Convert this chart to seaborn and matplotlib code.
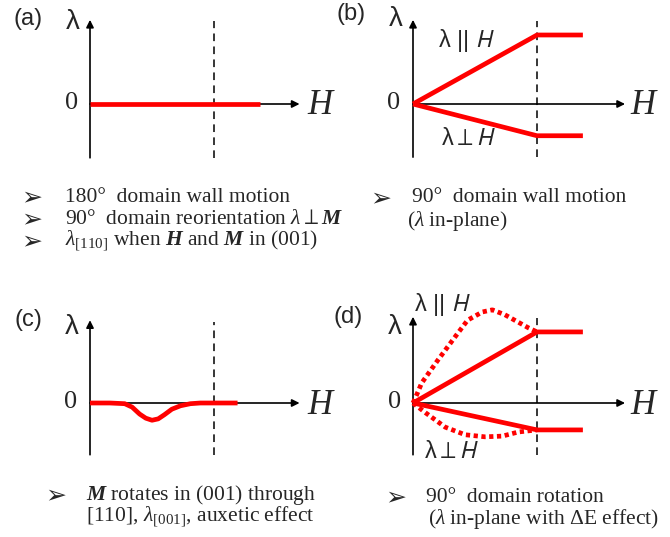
import matplotlib
matplotlib.use("Agg")
import matplotlib.pyplot as plt
import seaborn as sns

sns.set_style("white")
plt.rcParams["font.family"] = ["Liberation Serif", "DejaVu Sans"]
plt.rcParams["mathtext.fontset"] = "custom"
plt.rcParams["mathtext.rm"] = "Liberation Serif"
plt.rcParams["mathtext.it"] = "Liberation Serif:italic"
plt.rcParams["mathtext.bf"] = "Liberation Serif:bold:italic"

# Field H in units of the saturation field (dashed line at H = 1);
# magnetostriction lambda in units of the saturated lambda-parallel value of (b).
a_H = [0.0, 1.37]
a_lam = [0.0, 0.0]

b_H = [0.0, 1.0, 1.37]
b_par = [0.0, 1.0, 1.0]
b_perp = [0.0, -0.46, -0.46]

c_H = [0.0, 0.16, 0.28, 0.34, 0.40, 0.45, 0.50, 0.55, 0.60, 0.66, 0.73, 0.81, 0.89, 1.0, 1.19]
c_lam = [0.0, 0.0, -0.01, -0.06, -0.16, -0.22, -0.25, -0.23, -0.17, -0.09, -0.04, -0.01, 0.0, 0.0, 0.0]

d_H = [0.0, 1.0, 1.37]
d_par = [0.0, 1.03, 1.03]
d_perp = [0.0, -0.39, -0.39]
d_par_dE_H = [0.0, 0.03, 0.07, 0.20, 0.34, 0.44, 0.56, 0.64, 0.74, 0.85, 0.93, 1.0]
d_par_dE = [0.0, 0.12, 0.29, 0.62, 0.96, 1.20, 1.32, 1.35, 1.28, 1.17, 1.09, 1.03]
d_perp_dE_H = [0.0, 0.10, 0.26, 0.42, 0.58, 0.72, 0.85, 1.0]
d_perp_dE = [0.0, -0.14, -0.35, -0.46, -0.49, -0.48, -0.42, -0.39]

panel_tags = ["(a)", "(b)", "(c)", "(d)"]
par_label = r"λ || $H$"
perp_label = r"λ$\perp$$H$"
notes = {
    "a": ["180°  domain wall motion",
          r"90°  domain reorientation $\lambda \perp \mathbf{M}$",
          r"$\lambda_{[110]}$ when $\mathbf{H}$ and $\mathbf{M}$ in (001)"],
    "b": ["90°  domain wall motion", r"($\lambda$ in-plane)"],
    "c": [r"$\mathbf{M}$ rotates in (001) through",
          r"[110], $\lambda_{[001]}$, auxetic effect"],
    "d": ["90°  domain rotation", r"($\lambda$ in-plane with ΔE effect)"],
}

W, H = 670, 537
RED = "#ff0000"
SX, SY = 124.0, 69.0          # pixels per data unit
XL, YL = (-0.7, 2.0), (-1.0, 1.5)
SANS = ["Liberation Sans", "DejaVu Sans"]

fig = plt.figure(figsize=(W / 100, H / 100), dpi=100)


def make_panel(ox, oy, ytop, ybot, xend):
    left = ox + XL[0] * SX
    top = oy - YL[1] * SY
    w = (XL[1] - XL[0]) * SX
    h = (YL[1] - YL[0]) * SY
    ax = fig.add_axes([left / W, 1 - (top + h) / H, w / W, h / H])
    ax.set_xlim(*XL)
    ax.set_ylim(*YL)
    ax.axis("off")
    ax.patch.set_alpha(0)
    # axes with arrow heads
    ax.annotate("", xy=(0, ytop), xytext=(0, ybot),
                arrowprops=dict(arrowstyle="-|>", lw=1.2, color="black",
                                mutation_scale=11, shrinkA=0, shrinkB=0))
    ax.annotate("", xy=(xend, 0), xytext=(0, 0),
                arrowprops=dict(arrowstyle="-|>", lw=1.2, color="black",
                                mutation_scale=11, shrinkA=0, shrinkB=0))
    # saturation field
    ax.plot([1.0, 1.0], [ybot, ytop - 0.02], color="black", lw=1.1,
            linestyle=(0, (5, 3.5)))
    return ax


def pt(ox, oy, x, y):
    return (x - ox) / SX, (oy - y) / SY


def axis_texts(ax, ox, oy, tag, tag_xy, lam_xy, zero_xy, h_xy):
    ax.text(*pt(ox, oy, *tag_xy), tag, family=SANS, fontsize=17,
            ha="center", va="center")
    ax.text(*pt(ox, oy, *lam_xy), "λ", family=SANS, fontsize=20,
            ha="center", va="center")
    ax.text(*pt(ox, oy, *zero_xy), "0", fontsize=19, ha="center", va="center")
    ax.text(*pt(ox, oy, *h_xy), "H", fontsize=25, style="italic",
            ha="center", va="center")


def sans_label(ax, ox, oy, xy, s):
    ax.text(*pt(ox, oy, *xy), s, family=SANS, fontsize=17,
            math_fontfamily="stixsans", ha="center", va="center")


def line(ax, x, y, dotted=False):
    sns.lineplot(x=x, y=y, ax=ax, color=RED, lw=3.4, sort=False,
                 estimator=None, linestyle=(0, (0.9, 0.75)) if dotted else "-",
                 solid_capstyle="butt", dash_capstyle="butt", zorder=5)


# (a)
oa = (90, 104)
ax_a = make_panel(*oa, 1.22, -0.78, 1.69)
line(ax_a, a_H, a_lam)
axis_texts(ax_a, *oa, panel_tags[0], (28, 19), (73, 22), (72, 103), (320, 106))

# (b)
ob = (413, 104)
ax_b = make_panel(*ob, 1.22, -0.77, 1.71)
line(ax_b, b_H, b_par)
line(ax_b, b_H, b_perp)
axis_texts(ax_b, *ob, panel_tags[1], (351, 14), (396, 19), (394, 103), (643, 106))
sans_label(ax_b, *ob, (466, 41), par_label)
sans_label(ax_b, *ob, (469, 139), perp_label)

# (c)
oc = (90, 403)
ax_c = make_panel(*oc, 1.2, -0.75, 1.69)
line(ax_c, c_H, c_lam)
axis_texts(ax_c, *oc, panel_tags[2], (28, 320), (72, 327), (71, 402), (320, 406))

# (d)
od = (413, 403)
ax_d = make_panel(*od, 1.25, -0.75, 1.71)
line(ax_d, d_H, d_par)
line(ax_d, d_H, d_perp)
line(ax_d, d_par_dE_H, d_par_dE, dotted=True)
line(ax_d, d_perp_dE_H, d_perp_dE, dotted=True)
axis_texts(ax_d, *od, panel_tags[3], (348, 317), (395, 327), (395, 402), (643, 406))
sans_label(ax_d, *od, (442, 305), par_label)
sans_label(ax_d, *od, (452, 452), perp_label)


# bullet notes under each panel
def bullets(arrow_x, text_x, ys, lines, arrow_rows, indent=None):
    for i, (y, s) in enumerate(zip(ys, lines)):
        if i in arrow_rows:
            fig.text(arrow_x / W, 1 - y / H, "➢", family=["DejaVu Sans"],
                     fontweight="bold", fontsize=18, ha="center", va="center")
        x = text_x if (indent is None or i == 0) else indent
        fig.text(x / W, 1 - y / H, s, fontsize=15.5, ha="left", va="center")


bullets(32, 65, [197, 219, 241], notes["a"], {0, 1, 2})
bullets(381, 412, [198, 221], notes["b"], {0}, indent=407)
bullets(56, 86, [495, 517], notes["c"], {0}, indent=86)
bullets(396, 426, [497, 519], notes["d"], {0}, indent=428)

fig.savefig("out.png", dpi=100)
